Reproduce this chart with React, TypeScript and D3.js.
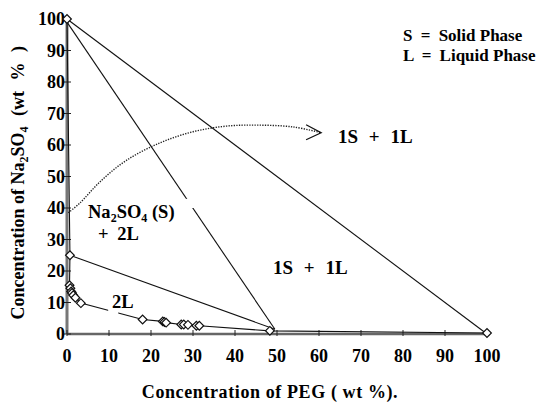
import * as d3 from "d3";

// PEG (x) and Na2SO4 (y) in wt %
const binodalPeg = [0, 0.7, 0.6, 0.8, 1.0, 1.2, 1.5, 2.0, 3.3, 18, 22.8, 23.2, 23.6, 27.2, 27.8, 28.8, 30.8, 31.5, 48.3, 100];
const binodalSalt = [100, 25, 15.5, 14.5, 13.5, 13, 12.3, 11.5, 9.8, 4.6, 4.0, 3.8, 3.6, 3.0, 3.0, 2.9, 2.6, 2.6, 1.0, 0.3];

const tieStartPeg = [0, 0, 0.7];
const tieStartSalt = [100, 99, 25];
const tieEndPeg = [100, 49.5, 49.5];
const tieEndSalt = [0, 1.5, 1.5];

// dotted arrow pointing to the 1S + 1L region
const arrowPeg = [0.3, 3, 8, 14, 22, 30, 38, 46, 54, 60.5];
const arrowSalt = [38.5, 41.5, 48.5, 55, 60.6, 64.2, 66, 66.3, 65.7, 63.9];

// breaks in the printed lines
const binodalGap = [9.8, 12.2]; // PEG wt %
const tieGap = [40.0, 42.9]; // Na2SO4 wt %

const xTicks = [0, 10, 20, 30, 40, 50, 60, 70, 80, 90, 100];
const yTicks = [0, 10, 20, 30, 40, 50, 60, 70, 80, 90, 100];

const W = 550;
const H = 402;
const font = "'Liberation Serif', 'Times New Roman', serif";

export default function App() {
  const x = d3.scaleLinear().domain([0, 100]).range([67, 487]);
  const y = d3.scaleLinear().domain([0, 100]).range([334, 19]);

  const binodal = binodalPeg.map((p, i) => [p, binodalSalt[i]] as [number, number]);
  const line = d3.line<[number, number]>().x(d => x(d[0])).y(d => y(d[1]));
  const arrowPts = arrowPeg.map((p, i) => [p, arrowSalt[i]] as [number, number]);
  const curve = d3.line<[number, number]>().x(d => x(d[0])).y(d => y(d[1])).curve(d3.curveCatmullRom);

  const tip = arrowPts[arrowPts.length - 1];
  const tx = x(tip[0]);
  const ty = y(tip[1]);

  const diamond = d3.symbol().type(d3.symbolSquare).size(38)();

  return (
    <svg width={W} height={H} style={{ position: "absolute", left: 0, top: 0, background: "#fff" }}
      fontFamily={font} fontWeight="bold">
      <defs>
        <mask id="binGap" maskUnits="userSpaceOnUse" x={0} y={0} width={W} height={H}>
          <rect x={0} y={0} width={W} height={H} fill="#fff" />
          <rect x={x(binodalGap[0])} y={y(20)} width={x(binodalGap[1]) - x(binodalGap[0])} height={y(0) - y(20)} fill="#000" />
        </mask>
        <mask id="tieGap" maskUnits="userSpaceOnUse" x={0} y={0} width={W} height={H}>
          <rect x={0} y={0} width={W} height={H} fill="#fff" />
          <rect x={x(0)} y={y(tieGap[1])} width={x(40) - x(0)} height={y(tieGap[0]) - y(tieGap[1])} fill="#000" />
        </mask>
      </defs>

      {/* axes */}
      <line x1={x(0)} x2={x(0)} y1={y(0)} y2={y(100)} stroke="#777" strokeWidth={3} />
      <line x1={x(0)} x2={x(100) + 3} y1={y(0)} y2={y(0)} stroke="#666" strokeWidth={2.5} />
      {xTicks.map(t => (
        <g key={"x" + t}>
          <line x1={x(t)} x2={x(t)} y1={y(0) - 4} y2={y(0) + 2} stroke="#222" strokeWidth={1} />
          <text x={x(t)} y={y(0) + 28} textAnchor="middle" fontSize={18}>{t}</text>
        </g>
      ))}
      {yTicks.map(t => (
        <g key={"y" + t}>
          <line x1={x(0) - 3} x2={x(0) + 4} y1={y(t)} y2={y(t)} stroke="#222" strokeWidth={1} />
          <text x={x(0) - 2} y={y(t) + 6} textAnchor="end" fontSize={18}>{t}</text>
        </g>
      ))}

      {/* tie lines */}
      {tieStartPeg.map((p, i) => (
        <line key={"tie" + i} x1={x(p)} y1={y(tieStartSalt[i])} x2={x(tieEndPeg[i])} y2={y(tieEndSalt[i])}
          stroke="#111" strokeWidth={1.1} mask={i === 1 ? "url(#tieGap)" : undefined} />
      ))}

      {/* binodal */}
      <path d={line(binodal) ?? ""} fill="none" stroke="#111" strokeWidth={1.1} mask="url(#binGap)" />
      {binodal.map((d, i) => (
        <path key={"m" + i} d={diamond} transform={`translate(${x(d[0])},${y(d[1])}) rotate(45)`}
          fill="#fff" stroke="#111" strokeWidth={1.2} />
      ))}

      {/* dotted arrow */}
      <path d={curve(arrowPts) ?? ""} fill="none" stroke="#222" strokeWidth={1.4} strokeDasharray="1.3,1.3" />
      <path d={`M${tx - 15},${ty - 8}L${tx},${ty}L${tx - 15},${ty + 7}`} fill="none" stroke="#111" strokeWidth={1.3} />

      {/* region labels */}
      <text x={338} y={143} fontSize={19} wordSpacing={6}>1S + 1L</text>
      <text x={273} y={274} fontSize={19} wordSpacing={6}>1S + 1L</text>
      <text x={88} y={218} fontSize={18.5}>
        Na<tspan fontSize={12} dy={4}>2</tspan><tspan dy={-4}>SO</tspan><tspan fontSize={12} dy={4}>4</tspan><tspan dy={-4}> (S)</tspan>
      </text>
      <text x={98} y={240} fontSize={18.5} wordSpacing={4}>+ 2L</text>
      <text x={112} y={308} fontSize={18.5}>2L</text>

      <text x={403} y={41} fontSize={17} wordSpacing={4}>S = Solid<tspan wordSpacing={0}> Phase</tspan></text>
      <text x={403} y={61} fontSize={17} wordSpacing={4}>L = Liquid<tspan wordSpacing={0}> Phase</tspan></text>

      {/* axis titles */}
      <text x={270} y={398} textAnchor="middle" fontSize={18} letterSpacing={0.6}>Concentration of PEG ( wt %).</text>
      <text transform={`translate(24,${y(48)}) rotate(-90)`} textAnchor="middle" fontSize={18}>
        Concentration of Na<tspan fontSize={12} dy={4}>2</tspan><tspan dy={-4}>SO</tspan><tspan fontSize={12} dy={4}>4</tspan><tspan dy={-4} wordSpacing={6}> (wt % )</tspan>
      </text>
    </svg>
  );
}
